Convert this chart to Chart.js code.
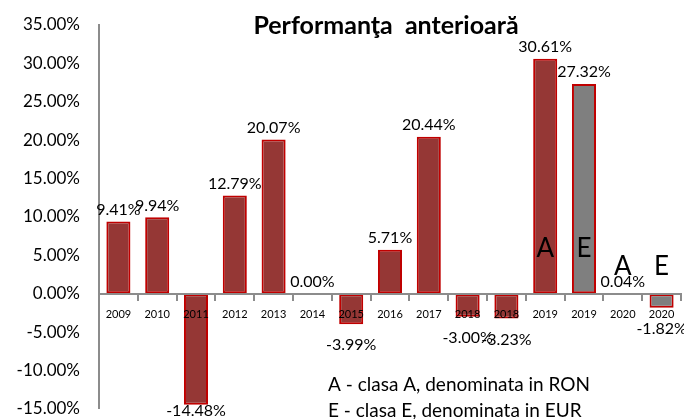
<!DOCTYPE html>
<html>
<head>
<meta charset="utf-8">
<script src="https://cdn.jsdelivr.net/npm/chart.js@4"></script>
<style>
  html, body { margin: 0; padding: 0; background: #fff; }
  #wrap { width: 684px; height: 419px; position: relative; }
</style>
</head>
<body>
<div id="wrap"><canvas id="perf" width="684" height="419"></canvas></div>
<script>
// annual returns, % (2018-2020 are given per share class)
const years = ['2009', '2010', '2011', '2012', '2013', '2014', '2015', '2016', '2017', '2018', '2018', '2019', '2019', '2020', '2020']
const returns = [9.41, 9.94, -14.48, 12.79, 20.07, 0.00, -3.99, 5.71, 20.44, -3.00, -3.23, 30.61, 27.32, 0.04, -1.82]
const shareClass = ['', '', '', '', '', '', '', '', '', '', '', 'A', 'E', 'A', 'E']
const notes = ['A - clasa A, denominata in RON', 'E - clasa E, denominata in EUR']
const titleText = 'Performanţa anterioară'
const yMin = -15
const yMax = 35
const yStep = 5

const FONT = 'Lato, "Noto Sans", sans-serif'

const fillColors = shareClass.map(c => c === 'E' ? '#7f7f7f' : '#953735')

// value labels, class letters, title and the note below the bars
const extras = {
    id: 'extras',
    afterDatasetsDraw(chart) {
        const ctx = chart.ctx
        const area = chart.chartArea
        const yScale = chart.scales.y
        const zero = yScale.getPixelForValue(0)
        const bars = chart.getDatasetMeta(0).data
        ctx.save()
        ctx.fillStyle = '#000'
        ctx.textAlign = 'center'
        ctx.textBaseline = 'middle'
        ctx.font = '16px ' + FONT
        bars.forEach((bar, i) => {
            const v = returns[i]
            const txt = v.toFixed(2) + '%'
            let y
            if (v >= 0) {
                y = bar.y - 12
            } else {
                y = Math.min(bar.y + 21, area.bottom + 2)
            }
            ctx.fillText(txt, bar.x, y)
        })
        ctx.font = '26px ' + FONT
        bars.forEach((bar, i) => {
            if (!shareClass[i]) return
            const y = returns[i] > 10 ? zero - 45 : zero - 27
            ctx.fillText(shareClass[i], bar.x, y)
        })
        ctx.font = 'bold 25px ' + FONT
        ctx.wordSpacing = '6px'
        ctx.fillText(titleText, 386, 26)
        ctx.wordSpacing = '0px'
        ctx.textAlign = 'left'
        ctx.font = '19px ' + FONT
        notes.forEach((n, k) => {
            ctx.fillText(n, 328, 385 + k * 26)
        })
        ctx.restore()
    }
}

new Chart(document.getElementById('perf'), {
    type: 'bar',
    data: {
        labels: years,
        datasets: [{
            data: returns,
            backgroundColor: fillColors,
            borderColor: '#c00000',
            borderWidth: 2,
            borderSkipped: false,
            barPercentage: 0.62,
            categoryPercentage: 1
        }]
    },
    options: {
        responsive: false,
        animation: false,
        devicePixelRatio: 1,
        layout: { padding: { left: 7, right: 3, top: 25, bottom: 0 } },
        plugins: {
            legend: { display: false },
            tooltip: { enabled: false }
        },
        scales: {
            x: {
                // category axis drawn across the zero line, on top of the bars
                position: { y: 0 },
                afterFit: s => { s.height = 0 },
                grid: {
                    z: 1,
                    drawOnChartArea: false,
                    drawTicks: true,
                    tickLength: 6,
                    color: '#8c8c8c',
                    lineWidth: 2,
                    offset: true
                },
                border: { z: 1, color: '#8c8c8c', width: 2 },
                ticks: {
                    z: 1,
                    color: '#000',
                    font: { family: FONT, size: 11 },
                    padding: 8,
                    maxRotation: 0,
                    autoSkip: false
                }
            },
            y: {
                min: yMin,
                max: yMax,
                // invisible tick marks keep the gap between labels and axis
                grid: {
                    drawOnChartArea: false,
                    drawTicks: true,
                    tickLength: 19,
                    color: 'rgba(0,0,0,0)'
                },
                border: { display: true, color: '#8c8c8c', width: 2 },
                afterFit: s => { s.width = 92 },
                ticks: {
                    stepSize: yStep,
                    color: '#000',
                    padding: 0,
                    font: { family: FONT, size: 17 },
                    callback: v => v.toFixed(2) + '%'
                }
            }
        }
    },
    plugins: [extras]
})
</script>
</body>
</html>
